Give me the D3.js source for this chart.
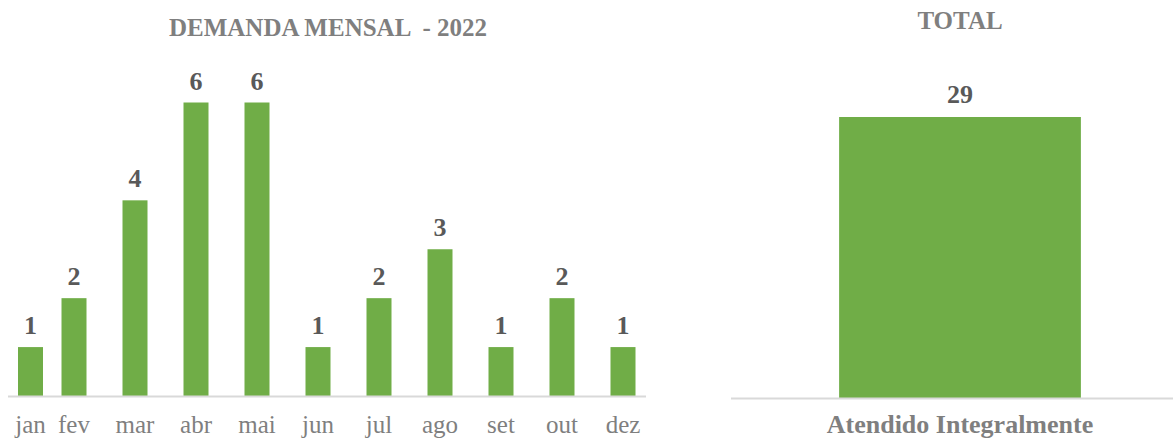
<!DOCTYPE html>
<html>
<head>
<meta charset="utf-8">
<script src="https://cdn.jsdelivr.net/npm/d3@7"></script>
<style>
  html, body { margin: 0; padding: 0; background: #fff; }
  svg { display: block; font-family: "Liberation Serif", "Times New Roman", serif; }
</style>
</head>
<body>
<svg id="chart"></svg>
<script>
const months = ['jan', 'fev', 'mar', 'abr', 'mai', 'jun', 'jul', 'ago', 'set', 'out', 'dez'];
const demand = [1, 2, 4, 6, 6, 1, 2, 3, 1, 2, 1];
const totalLabels = ['Atendido Integralmente'];
const totalValues = [29];

const colors = {
    bar: '#70ad47',
    title: '#7f7f7f',
    value: '#595959',
    tick: '#7f7f7f',
    axis: '#d9d9d9'
};

const width = 1173;
const height = 439;

const svg = d3.select('#chart')
    .attr('width', width)
    .attr('height', height);

// ---- left: monthly demand ----
const left = svg.append('g');

// jan sits closer to fev in the original, so a piecewise scale on the index
const x = d3.scaleLinear()
    .domain([0, 1, months.length - 1])
    .range([30.5, 74, 623]);
const barW = 25;

const y = d3.scaleLinear()
    .domain([0, d3.max(demand)])
    .range([396, 102.5]);

left.append('text')
    .attr('x', 328)
    .attr('y', 36)
    .attr('text-anchor', 'middle')
    .style('font-size', '25px')
    .style('font-weight', 'bold')
    .style('fill', colors.title)
    .style('white-space', 'pre')
    .text('DEMANDA MENSAL  - 2022');

left.selectAll('rect')
    .data(demand)
    .enter().append('rect')
    .attr('x', (d, i) => x(i) - barW / 2)
    .attr('y', d => y(d))
    .attr('width', barW)
    .attr('height', d => y(0) - y(d))
    .style('fill', colors.bar);

left.append('line')
    .attr('x1', 8).attr('x2', 646)
    .attr('y1', y(0) + 0.5).attr('y2', y(0) + 0.5)
    .style('stroke', colors.axis)
    .style('stroke-width', 2);

left.selectAll('.val')
    .data(demand)
    .enter().append('text')
    .attr('class', 'val')
    .attr('x', (d, i) => x(i))
    .attr('y', d => y(d) - 13)
    .attr('text-anchor', 'middle')
    .style('font-size', '26px')
    .style('font-weight', 'bold')
    .style('fill', colors.value)
    .text(d => d);

left.selectAll('.tick-label')
    .data(months)
    .enter().append('text')
    .attr('class', 'tick-label')
    .attr('x', (d, i) => x(i))
    .attr('y', 433)
    .attr('text-anchor', 'middle')
    .style('font-size', '25px')
    .style('fill', colors.tick)
    .text(d => d);

// ---- right: total ----
const right = svg.append('g');

const xr = d3.scaleBand()
    .domain(totalLabels)
    .range([731, 1189])
    .paddingInner(0.309)
    .paddingOuter(0.309);

const yr = d3.scaleLinear()
    .domain([0, d3.max(totalValues)])
    .range([398, 117]);

right.append('text')
    .attr('x', 960)
    .attr('y', 29)
    .attr('text-anchor', 'middle')
    .style('font-size', '25px')
    .style('font-weight', 'bold')
    .style('fill', colors.title)
    .text('TOTAL');

right.selectAll('rect')
    .data(totalValues)
    .enter().append('rect')
    .attr('x', (d, i) => xr(totalLabels[i]))
    .attr('y', d => yr(d))
    .attr('width', xr.bandwidth())
    .attr('height', d => yr(0) - yr(d))
    .style('fill', colors.bar);

right.append('line')
    .attr('x1', 731).attr('x2', width)
    .attr('y1', yr(0) + 0.5).attr('y2', yr(0) + 0.5)
    .style('stroke', colors.axis)
    .style('stroke-width', 2);

right.selectAll('.val')
    .data(totalValues)
    .enter().append('text')
    .attr('class', 'val')
    .attr('x', (d, i) => xr(totalLabels[i]) + xr.bandwidth() / 2)
    .attr('y', d => yr(d) - 14)
    .attr('text-anchor', 'middle')
    .style('font-size', '26px')
    .style('font-weight', 'bold')
    .style('fill', colors.value)
    .text(d => d);

right.selectAll('.tick-label')
    .data(totalLabels)
    .enter().append('text')
    .attr('class', 'tick-label')
    .attr('x', d => xr(d) + xr.bandwidth() / 2)
    .attr('y', 433)
    .attr('text-anchor', 'middle')
    .style('font-size', '26px')
    .style('font-weight', 'bold')
    .style('fill', colors.tick)
    .text(d => d);
</script>
</body>
</html>
